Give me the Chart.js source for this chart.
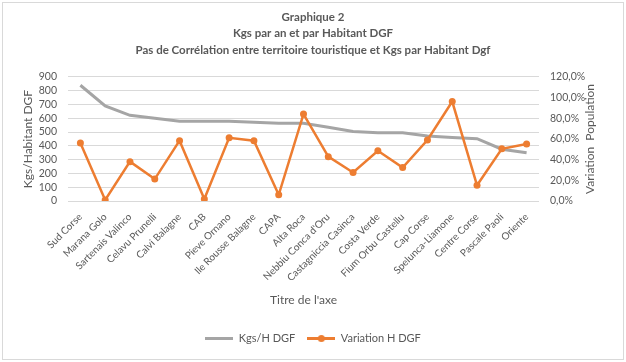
<!DOCTYPE html>
<html>
<head>
<meta charset="utf-8">
<script src="https://cdn.jsdelivr.net/npm/chart.js@4.4.0/dist/chart.umd.min.js"></script>
<style>
html,body{margin:0;padding:0;background:#fff;}
#wrap{position:relative;width:626px;height:362px;}
canvas{display:block;}
</style>
</head>
<body>
<div id="wrap"><canvas id="c" width="626" height="362"></canvas></div>
<script>
const categories = ["Sud Corse","Marana Golo","Sartenais Valinco","Celavu Prunelli","Calvi Balagne","CAB","Pieve Ornano","Ile Rousse Balagne","CAPA","Alta Roca","Nebbiu Conca d'Oru","Castagniccia Casinca","Costa Verde","Fium Orbu Castellu","Cap Corse","Spelunca-Liamone","Centre Corse","Pascale Paoli","Oriente"];
const kgsPerHab = [840,690,622,600,578,578,578,571,565,565,536,505,496,495,471,461,452,376,350];
const variationPct = [56.2,1.0,38.1,21.2,58.4,1.9,61.2,58.4,6.0,84.1,42.9,27.6,48.6,32.4,59.0,96.2,15.2,50.5,55.2];
const leftTicks = [0,100,200,300,400,500,600,700,800,900];
const rightTicks = [0,20,40,60,80,100,120];

const FONT = "Lato, 'Open Sans', sans-serif";
const TXT = '#595959';
const GRAY = '#A5A5A5';
const ORANGE = '#ED7D31';

function lineIcon(color, dot){
  const cv = document.createElement('canvas');
  cv.width = 28; cv.height = 9;
  const g = cv.getContext('2d');
  g.strokeStyle = color; g.lineWidth = 3;
  g.beginPath(); g.moveTo(0,4.5); g.lineTo(28,4.5); g.stroke();
  if(dot){ g.fillStyle = color; g.beginPath(); g.arc(14,4.5,3.5,0,Math.PI*2); g.fill(); }
  return cv;
}
const iconGray = lineIcon(GRAY,false);
const iconOrange = lineIcon(ORANGE,true);

const framePlugin = {
  id:'frame',
  beforeDraw(chart){
    const ctx = chart.ctx;
    ctx.save();
    ctx.fillStyle = '#fff';
    ctx.fillRect(0,0,chart.width,chart.height);
    ctx.strokeStyle = '#d9d9d9';
    ctx.lineWidth = 1;
    ctx.strokeRect(2.5,2.5,621,357);
    ctx.restore();
  },
  afterDraw(chart){
    const ctx = chart.ctx;
    const a = chart.chartArea;
    ctx.save();
    ctx.translate(590,(a.top+a.bottom)/2);
    ctx.rotate(-Math.PI/2);
    ctx.fillStyle = TXT;
    ctx.font = "12px " + FONT;
    ctx.textAlign = 'center';
    ctx.textBaseline = 'middle';
    ctx.fillText('Variation  Population',0,0);
    ctx.restore();
  }
};

new Chart(document.getElementById('c'),{
  type:'line',
  data:{
    labels:categories,
    datasets:[
      {label:'Kgs/H DGF',data:kgsPerHab,yAxisID:'y',borderColor:GRAY,backgroundColor:GRAY,borderWidth:3,pointRadius:0,tension:0,order:1},
      {label:'Variation H DGF',data:variationPct,yAxisID:'y1',borderColor:ORANGE,backgroundColor:ORANGE,borderWidth:2.5,pointRadius:3.5,pointHoverRadius:3.5,pointBorderWidth:0,pointBackgroundColor:ORANGE,tension:0,order:0}
    ]
  },
  options:{
    responsive:false,
    animation:false,
    layout:{padding:{left:0,right:0,top:0,bottom:8}},
    plugins:{
      title:{
        display:true,
        text:['Graphique 2','Kgs par an et par Habitant DGF','Pas de Corrélation entre territoire touristique et Kgs par Habitant Dgf'],
        color:TXT,
        font:{family:FONT,size:11.5,weight:'bold',lineHeight:1.42},
        padding:{top:9,bottom:19}
      },
      legend:{
        position:'bottom',
        labels:{
          usePointStyle:true,
          pointStyleWidth:28,
          padding:12,
          color:TXT,
          font:{family:FONT,size:11},
          generateLabels(chart){
            return [
              {text:'Kgs/H DGF',pointStyle:iconGray,fillStyle:GRAY,strokeStyle:GRAY,lineWidth:0,datasetIndex:0,fontColor:TXT},
              {text:'Variation H DGF',pointStyle:iconOrange,fillStyle:ORANGE,strokeStyle:ORANGE,lineWidth:0,datasetIndex:1,fontColor:TXT}
            ];
          }
        }
      },
      tooltip:{enabled:false}
    },
    scales:{
      x:{
        type:'category',
        offset:true,
        grid:{display:false},
        border:{display:false},
        ticks:{color:TXT,font:{family:FONT,size:10},minRotation:45,maxRotation:45,autoSkip:false,padding:2},
        title:{display:true,text:"Titre de l'axe",color:TXT,font:{family:FONT,size:12},padding:{top:2,bottom:14}},
        afterFit(s){ s.height = 120; }
      },
      y:{
        position:'left',
        min:0,max:900,
        afterBuildTicks(s){ s.ticks = leftTicks.map(v=>({value:v})); },
        grid:{color:'#d9d9d9',drawTicks:false,lineWidth:1},
        border:{display:false},
        ticks:{color:TXT,font:{family:FONT,size:10.5},padding:11,autoSkip:false},
        title:{display:true,text:'Kgs/Habitant DGF',color:TXT,font:{family:FONT,size:12},padding:{top:21}},
        afterFit(s){ s.width = 68; }
      },
      y1:{
        position:'right',
        min:0,max:120,
        afterBuildTicks(s){ s.ticks = rightTicks.map(v=>({value:v})); },
        grid:{display:false,drawTicks:false},
        border:{display:false},
        ticks:{color:TXT,font:{family:FONT,size:10.5},padding:11,autoSkip:false,callback:v=>v.toFixed(1).replace('.',',')+'%'},
        afterFit(s){ s.width = 87; }
      }
    }
  },
  plugins:[framePlugin]
});
</script>
</body>
</html>
